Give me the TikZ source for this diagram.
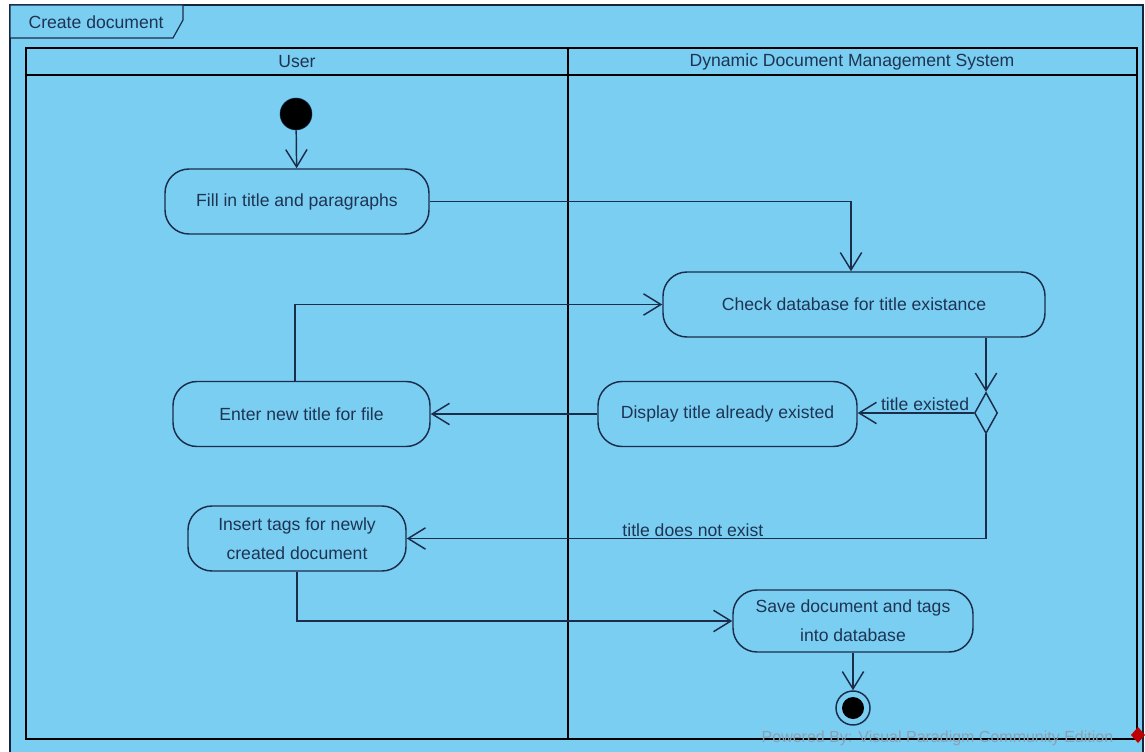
\documentclass[tikz,border=0pt]{standalone}
\usepackage{fontspec}
\setmainfont{Liberation Sans}
\usetikzlibrary{arrows.meta,shapes.geometric}
\definecolor{lanebg}{RGB}{122,206,242}
\definecolor{ink}{RGB}{27,45,75}
\definecolor{txt}{RGB}{30,52,82}
\definecolor{wm}{RGB}{140,160,178}
\tikzset{
  act/.style={draw=ink, line width=1.1pt, rounded corners=18pt, inner sep=0pt,
    minimum height=48.75pt, align=center, text=txt, font=\fontsize{13.2}{22}\selectfont},
  flow/.style={draw=ink, line width=1.1pt, -{Straight Barb[length=13pt,width=16pt,line width=1.1pt]}},
  lbl/.style={text=txt, font=\fontsize{13.2}{15}\selectfont, inner sep=1pt},
  lane/.style={draw=black, line width=2.2pt},
}
\begin{document}
\begin{tikzpicture}[x=0.75pt,y=-0.75pt]
  \useasboundingbox (0,0) rectangle (1145,752);
  \fill[white] (0,0) rectangle (1145,752);
  % outer frame
  \fill[lanebg] (10,5) rectangle (1143,752);
  \draw[draw=ink!80!black, line width=0.9pt] (10,752) -- (10,5) -- (1143,5) -- (1143,752);
  % frame name tab
  \draw[draw=ink, line width=0.9pt, fill=lanebg] (10,5) -- (183,5) -- (183,20) -- (173,38) -- (10,38) -- cycle;
  \node[lbl, anchor=west] (framename) at (27,22) {Create document};
  % swimlanes
  \draw[lane] (26,48) rectangle (1137,739);
  \draw[lane] (26,75) -- (1137,75);
  \draw[lane] (568,48) -- (568,739);
  \node[lbl] (laneuser) at (297,62) {User};
  \node[lbl] (lanesys) at (852,62) {Dynamic Document Management System};

  % activity nodes
  \node[circle, fill=black, draw=ink, minimum size=24pt, inner sep=0pt] (init) at (296,114) {};
  \node[act, minimum width=198pt] (fill) at (297,201.5) {Fill in title and paragraphs};
  \node[act, minimum width=286.5pt] (check) at (854,304.5) {Check database for title existance};
  \node[diamond, draw=ink, line width=1.1pt, fill=lanebg, inner sep=0pt,
        minimum width=17.25pt, minimum height=30.75pt, aspect=0.56] (dec) at (986,413) {};
  \node[act, minimum width=194.25pt] (display) at (727.5,414) {Display title already existed};
  \node[act, minimum width=192.75pt] (enter) at (301.5,414) {Enter new title for file};
  \node[act, minimum width=163.5pt] (insert) at (297,538.5) {Insert tags for newly\\created document};
  \node[act, minimum width=180pt, minimum height=46.5pt] (save) at (853,621) {Save document and tags\\into database};
  \node[circle, draw=ink, line width=1.1pt, minimum size=25.5pt, inner sep=0pt] (final) at (853,708) {};
  \fill[black] (final.center) circle (8.25pt);

  % control flows
  \draw[flow] (init) -- (fill);
  \draw[flow] (fill.east) -| ([xshift=-2.25pt]check.north);
  \draw[flow] (check.south -| dec.north) -- (dec.north);
  \draw[flow] (dec.west) -- node[lbl, above, pos=0.42] (lexist) {title existed} (dec.west -| display.east);
  \draw[flow] (display.west) -- (enter.east);
  \draw[flow] ([xshift=-5pt]enter.north) |- (check.west);
  \draw[flow] (dec.south) |- node[lbl, above, pos=0.753] (lnot) {title does not exist} (insert.east);
  \draw[flow] (insert.south) |- (save.west);
  \draw[flow] (save.south) -- (final.north);

  % edition mark
  \node[text=wm, font=\fontsize{12}{14}\selectfont, anchor=east] (mark) at (1118,738) {Powered By: Visual Paradigm Community Edition};
  \fill[red!75!black] (1138,727) -- (1145,735) -- (1138,743) -- (1131,735) -- cycle;
\end{tikzpicture}
\end{document}
